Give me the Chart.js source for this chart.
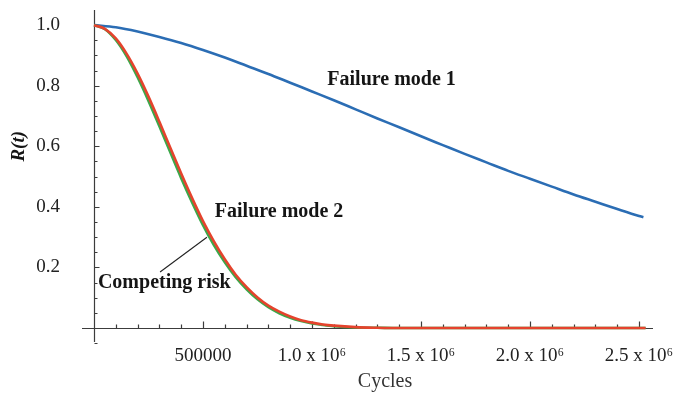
<!DOCTYPE html>
<html>
<head>
<meta charset="utf-8">
<script src="https://cdn.jsdelivr.net/npm/chart.js@4.4.0/dist/chart.umd.min.js"></script>
<style>
  html, body { margin: 0; padding: 0; background: #fff; }
  #wrap { width: 676px; height: 397px; }
</style>
</head>
<body>
<div id="wrap"><canvas id="reliabilityChart"></canvas></div>
<script>
// Reliability R(t) against load cycles
const cyclesMode1 = [0, 100000, 200000, 300000, 400000, 500000, 600000, 700000, 800000, 900000,
  1000000, 1100000, 1200000, 1300000, 1400000, 1500000, 1600000, 1700000, 1800000, 1900000,
  2000000, 2100000, 2200000, 2300000, 2400000, 2500000, 2520000];
const failureMode1 = [1.000, 0.993, 0.979, 0.961, 0.941, 0.918, 0.893, 0.866, 0.839, 0.810,
  0.781, 0.752, 0.722, 0.692, 0.663, 0.633, 0.604, 0.575, 0.547, 0.519,
  0.493, 0.467, 0.441, 0.417, 0.393, 0.370, 0.366];

const cyclesMode2 = [0, 50000, 100000, 150000, 200000, 250000, 300000, 350000, 400000, 450000,
  500000, 550000, 600000, 650000, 700000, 750000, 800000, 850000, 900000, 950000,
  1000000, 1050000, 1100000, 1200000, 1300000, 1400000, 1800000, 2200000, 2530000];
const failureMode2 = [1.000, 0.988, 0.956, 0.905, 0.840, 0.764, 0.681, 0.595, 0.510, 0.429,
  0.353, 0.286, 0.227, 0.176, 0.135, 0.101, 0.074, 0.054, 0.038, 0.026,
  0.018, 0.012, 0.008, 0.003, 0.001, 0.000, 0.000, 0.000, 0.000];
const competingRisk = [1.000, 0.987, 0.951, 0.897, 0.828, 0.750, 0.666, 0.580, 0.495, 0.415,
  0.340, 0.274, 0.217, 0.168, 0.128, 0.095, 0.069, 0.049, 0.034, 0.023,
  0.015, 0.010, 0.006, 0.002, 0.001, 0.000, 0.000, 0.000, 0.000];

const yTickValues = [0.2, 0.4, 0.6, 0.8, 1.0];
const yTickLabels = ['0.2', '0.4', '0.6', '0.8', '1.0'];
const xTickValues = [500000, 1000000, 1500000, 2000000, 2500000];
const xTickLabels = ['500000', '1.0 x 10\u2076', '1.5 x 10\u2076', '2.0 x 10\u2076', '2.5 x 10\u2076'];

const SERIF = '"Liberation Serif", "Times New Roman", serif';
const AXIS_COLOR = '#3c3c3c';

function toPoints(xs, ys) {
  return xs.map((x, i) => ({ x: x, y: ys[i] }));
}

// Mathematica-style axes crossing at the origin, ticks pointing inward
const crossAxes = {
  id: 'crossAxes',
  beforeDatasetsDraw(chart) {
    const { ctx, chartArea, scales: { x, y } } = chart;
    const x0 = Math.round(x.getPixelForValue(0)) + 0.5;
    const y0 = Math.round(y.getPixelForValue(0)) + 0.5;
    ctx.save();
    ctx.strokeStyle = AXIS_COLOR;
    ctx.lineWidth = 1.2;
    ctx.beginPath();
    ctx.moveTo(x0, chartArea.top);
    ctx.lineTo(x0, chartArea.bottom);
    ctx.moveTo(chartArea.left, y0);
    ctx.lineTo(chartArea.right, y0);

    // y ticks every 0.05, longer on the labelled ones
    for (let k = -1; k <= 20; k++) {
      if (k === 0) continue;
      const p = Math.round(y.getPixelForValue(k * 0.05)) + 0.5;
      const len = k % 4 === 0 ? 5 : 3;
      ctx.moveTo(x0, p);
      ctx.lineTo(x0 + len, p);
    }
    // x ticks every 100000
    for (let k = 1; k <= 25; k++) {
      const p = Math.round(x.getPixelForValue(k * 100000)) + 0.5;
      const len = k % 5 === 0 ? 7 : 4;
      ctx.moveTo(p, y0);
      ctx.lineTo(p, y0 - len);
    }
    ctx.stroke();
    ctx.restore();
  }
};

// Curve names, pointer line and axis titles
const curveLabels = {
  id: 'curveLabels',
  afterDatasetsDraw(chart) {
    const { ctx, scales: { x, y } } = chart;
    ctx.save();
    ctx.fillStyle = '#151515';
    ctx.textBaseline = 'alphabetic';
    ctx.font = 'bold 20px ' + SERIF;

    ctx.textAlign = 'center';
    ctx.fillText('Failure mode 1', x.getPixelForValue(1365000), y.getPixelForValue(0.802));
    ctx.fillText('Failure mode 2', x.getPixelForValue(849000), y.getPixelForValue(0.366));
    ctx.textAlign = 'left';
    ctx.fillText('Competing risk', x.getPixelForValue(18000), y.getPixelForValue(0.132));

    ctx.strokeStyle = '#222';
    ctx.lineWidth = 1.1;
    ctx.beginPath();
    ctx.moveTo(x.getPixelForValue(303000), y.getPixelForValue(0.185));
    ctx.lineTo(x.getPixelForValue(518000), y.getPixelForValue(0.300));
    ctx.stroke();

    ctx.font = '20px ' + SERIF;
    ctx.textAlign = 'center';
    ctx.fillStyle = '#333';
    ctx.fillText('Cycles', x.getPixelForValue(1335000), 387);

    ctx.translate(19, y.getPixelForValue(0.6));
    ctx.rotate(-Math.PI / 2);
    ctx.font = 'italic bold 19px ' + SERIF;
    ctx.fillStyle = '#151515';
    ctx.textBaseline = 'middle';
    ctx.fillText('R(t)', 0, 0);
    ctx.restore();
  }
};

const ctx = document.getElementById('reliabilityChart').getContext('2d');
new Chart(ctx, {
  type: 'line',
  data: {
    datasets: [
      {
        label: 'Failure mode 2',
        data: toPoints(cyclesMode2, failureMode2),
        borderColor: '#e5432d',
        borderWidth: 2.6,
        order: 1
      },
      {
        label: 'Competing risk',
        data: toPoints(cyclesMode2, competingRisk),
        borderColor: '#3aa84a',
        borderWidth: 2.6,
        order: 2
      },
      {
        label: 'Failure mode 1',
        data: toPoints(cyclesMode1, failureMode1),
        borderColor: '#2b6db4',
        borderWidth: 2.6,
        order: 3
      }
    ]
  },
  options: {
    responsive: true,
    maintainAspectRatio: false,
    animation: false,
    layout: { padding: { top: 10, right: 23, left: 0, bottom: 0 } },
    elements: {
      point: { radius: 0 },
      line: { tension: 0.4, cubicInterpolationMode: 'monotone', fill: false }
    },
    plugins: {
      legend: { display: false },
      tooltip: { enabled: false }
    },
    scales: {
      x: {
        type: 'linear',
        min: -55000,
        max: 2564000,
        border: { display: false },
        grid: { display: false, drawTicks: false },
        afterBuildTicks(scale) {
          scale.ticks = xTickValues.map(v => ({ value: v }));
        },
        afterFit(scale) {
          scale.height = 55;
          scale.paddingLeft = 0;
          scale.paddingRight = 0;
        },
        ticks: {
          autoSkip: false,
          maxRotation: 0,
          padding: 3,
          color: '#222',
          font: { family: SERIF, size: 19 },
          callback: (value, index) => xTickLabels[index]
        }
      },
      y: {
        type: 'linear',
        min: -0.046,
        max: 1.05,
        border: { display: false },
        grid: { display: false, drawTicks: false },
        afterBuildTicks(scale) {
          scale.ticks = yTickValues.map(v => ({ value: v }));
        },
        afterFit(scale) {
          scale.width = 82;
          scale.paddingTop = 0;
          scale.paddingBottom = 0;
        },
        ticks: {
          autoSkip: false,
          padding: 22,
          color: '#222',
          font: { family: SERIF, size: 19 },
          callback: (value, index) => yTickLabels[index]
        }
      }
    }
  },
  plugins: [crossAxes, curveLabels]
});
</script>
</body>
</html>
